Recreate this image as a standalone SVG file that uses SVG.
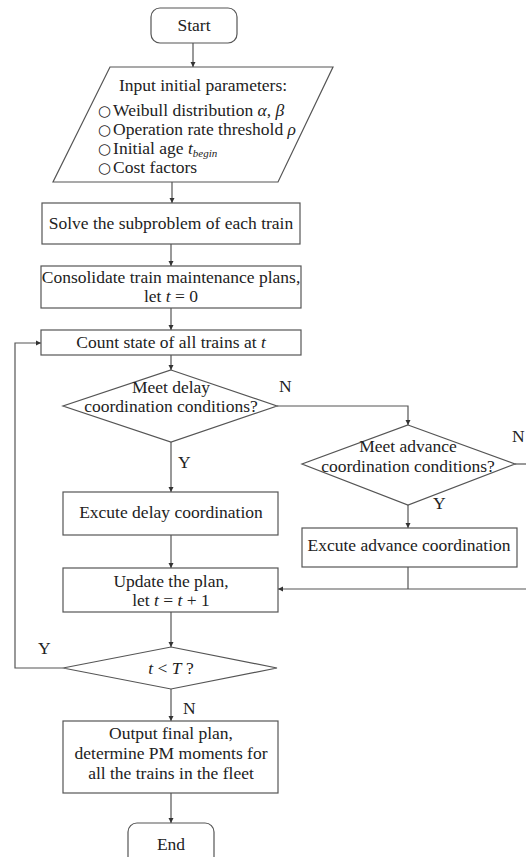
<svg xmlns="http://www.w3.org/2000/svg" width="526" height="857" viewBox="0 0 526 857">
<defs>
<marker id="ah" markerWidth="6" markerHeight="6" refX="5" refY="3" orient="auto" markerUnits="userSpaceOnUse">
<path d="M0,0.5 L5,3 L0,5.5 Z" fill="#333"/>
</marker>
<style>
.s{fill:#fff;stroke:#555;stroke-width:1.2}
.c{fill:none;stroke:#555;stroke-width:1.2}
text{font-family:"Liberation Serif","Times New Roman",serif;font-size:17.5px;fill:#222}
.m{text-anchor:middle}
.i{font-style:italic}
.b{font-family:"DejaVu Sans",sans-serif;font-size:15px}
</style>
</defs>
<rect width="526" height="857" fill="#fff"/>
<g id="connectors">
<line class="c" x1="193" y1="43" x2="193" y2="67" marker-end="url(#ah)"/>
<line class="c" x1="172" y1="182" x2="172" y2="203" marker-end="url(#ah)"/>
<line class="c" x1="171" y1="244" x2="171" y2="266" marker-end="url(#ah)"/>
<line class="c" x1="171" y1="308" x2="171" y2="330" marker-end="url(#ah)"/>
<line class="c" x1="171" y1="355" x2="171" y2="370" marker-end="url(#ah)"/>
<polyline class="c" points="277,406 408,406 408,425" marker-end="url(#ah)"/>
<line class="c" x1="171" y1="442" x2="171" y2="492" marker-end="url(#ah)"/>
<line class="c" x1="408" y1="505" x2="408" y2="528" marker-end="url(#ah)"/>
<line class="c" x1="515" y1="464" x2="526" y2="464"/>
<line class="c" x1="408" y1="567" x2="408" y2="589"/>
<line class="c" x1="526" y1="589" x2="278" y2="589" marker-end="url(#ah)"/>
<line class="c" x1="171" y1="535" x2="171" y2="568" marker-end="url(#ah)"/>
<line class="c" x1="171" y1="612" x2="171" y2="647" marker-end="url(#ah)"/>
<polyline class="c" points="63,668 15,668 15,343 41,343" marker-end="url(#ah)"/>
<line class="c" x1="171" y1="689" x2="171" y2="721" marker-end="url(#ah)"/>
<line class="c" x1="171" y1="793" x2="171" y2="823" marker-end="url(#ah)"/>
<text x="279" y="392">N</text>
<text x="512" y="442">N</text>
<text x="433" y="509">Y</text>
<text x="178" y="468">Y</text>
<text x="38" y="654">Y</text>
<text x="183" y="714">N</text>
</g>
<g id="start">
<rect class="s" x="151" y="8" width="86" height="35" rx="9"/>
<text class="m" x="194" y="31">Start</text>
</g>
<g id="input">
<polygon class="s" points="110,67 333,67 278,182 53,182"/>
<text class="m" x="203" y="91">Input initial parameters:</text>
<text x="98" y="116"><tspan class="b">○</tspan><tspan dx="2">Weibull distribution </tspan><tspan class="i">α</tspan>, <tspan class="i">β</tspan></text>
<text x="98" y="135"><tspan class="b">○</tspan><tspan dx="2">Operation rate threshold </tspan><tspan class="i">ρ</tspan></text>
<text x="98" y="154"><tspan class="b">○</tspan><tspan dx="2">Initial age </tspan><tspan class="i">t</tspan><tspan class="i" font-size="11" dy="3">begin</tspan></text>
<text x="98" y="173"><tspan class="b">○</tspan><tspan dx="2">Cost factors</tspan></text>
</g>
<g id="solve">
<rect class="s" x="42" y="203" width="258" height="41"/>
<text class="m" x="171" y="229">Solve the subproblem of each train</text>
</g>
<g id="consolidate">
<rect class="s" x="41" y="266" width="260" height="42"/>
<text class="m" x="171" y="283">Consolidate train maintenance plans,</text>
<text class="m" x="171" y="302">let <tspan class="i">t</tspan> = 0</text>
</g>
<g id="count">
<rect class="s" x="41" y="330" width="260" height="25"/>
<text class="m" x="171" y="348">Count state of all trains at <tspan class="i">t</tspan></text>
</g>
<g id="delay-decision">
<polygon class="s" points="171,370 277,406 171,442 63,406"/>
<text class="m" x="171" y="393">Meet delay</text>
<text class="m" x="171" y="412">coordination conditions?</text>
</g>
<g id="advance-decision">
<polygon class="s" points="408,425 515,464 408,505 302,464"/>
<text class="m" x="408" y="452">Meet advance</text>
<text class="m" x="408" y="472">coordination conditions?</text>
</g>
<g id="delay">
<rect class="s" x="63" y="492" width="215" height="43"/>
<text class="m" x="171" y="518">Excute delay coordination</text>
</g>
<g id="advance">
<rect class="s" x="302" y="528" width="215" height="39"/>
<text class="m" x="409" y="551">Excute advance coordination</text>
</g>
<g id="update">
<rect class="s" x="63" y="568" width="215" height="44"/>
<text class="m" x="171" y="587">Update the plan,</text>
<text class="m" x="171" y="606">let <tspan class="i">t</tspan> = <tspan class="i">t</tspan> + 1</text>
</g>
<g id="check">
<polygon class="s" points="171,647 277,668 171,689 63,668"/>
<text class="m" x="171" y="674"><tspan class="i">t</tspan> &lt; <tspan class="i">T</tspan> ?</text>
</g>
<g id="output">
<rect class="s" x="63" y="721" width="215" height="72"/>
<text class="m" x="171" y="739">Output final plan,</text>
<text class="m" x="171" y="759">determine PM moments for</text>
<text class="m" x="171" y="779">all the trains in the fleet</text>
</g>
<g id="end">
<rect class="s" x="128" y="823" width="86" height="44" rx="9"/>
<text class="m" x="171" y="850">End</text>
</g>
</svg>
